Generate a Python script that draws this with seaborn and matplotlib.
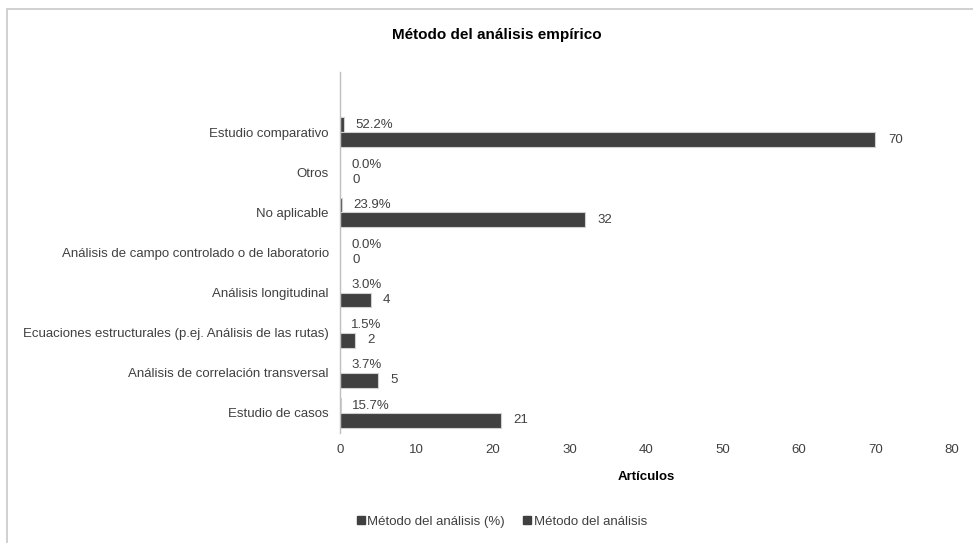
import numpy as np
import pandas as pd
import matplotlib
matplotlib.use("Agg")
import matplotlib.pyplot as plt
import matplotlib.patches as mpatches
import seaborn as sns

# chart data
categorias = ["Estudio comparativo",
              "Otros",
              "No aplicable",
              "Análisis de campo controlado o de laboratorio",
              "Análisis longitudinal",
              "Ecuaciones estructurales (p.ej. Análisis de las rutas)",
              "Análisis de correlación transversal",
              "Estudio de casos"]
porcentaje = [52.2, 0.0, 23.9, 0.0, 3.0, 1.5, 3.7, 15.7]
articulos = [70, 0, 32, 0, 4, 2, 5, 21]
series = ["Método del análisis (%)", "Método del análisis"]

sns.set_theme(style="white")
plt.rcParams['font.family'] = ['Liberation Sans', 'DejaVu Sans']

df = pd.DataFrame({
    "categoria": categorias * 2,
    "serie": [series[0]] * len(categorias) + [series[1]] * len(categorias),
    "valor": [p / 100 for p in porcentaje] + articulos,
})

bar_color = "#404040"
text_color = "#404040"
fs = 9.5

fig = plt.figure(figsize=(9.73, 5.43), dpi=100)
ax = fig.add_axes([0.3494, 0.2026, 0.6290, 0.6648])

sns.barplot(data=df, y="categoria", x="valor", hue="serie", order=categorias,
            hue_order=series, palette=[bar_color, bar_color], width=0.74,
            orient="h", ax=ax, legend=False, edgecolor="#d0d0d0", linewidth=0.8,
            saturation=1)

# data labels
ax.bar_label(ax.containers[0], labels=[f"{p:.1f}%" for p in porcentaje],
             padding=8, fontsize=fs, color=text_color)
ax.bar_label(ax.containers[1], labels=[str(a) for a in articulos],
             padding=9, fontsize=fs, color=text_color)

ax.set_xlim(0, 80)
ax.set_ylim(7.446, -1.485)
ax.set_xticks(np.arange(0, 81, 10))
ax.set_ylabel("")
ax.set_xlabel("Artículos", fontsize=fs, fontweight="bold", color="black", labelpad=11)
ax.tick_params(axis="x", length=0, labelsize=fs, labelcolor=text_color, pad=8)
ax.tick_params(axis="y", length=0, labelsize=fs, labelcolor=text_color, pad=8)
ax.set_yticks(np.arange(-1.5, 8, 1), minor=True)
ax.tick_params(axis="y", which="minor", length=3, color="#a0a0a0", width=0.8)

for s in ["top", "right", "bottom"]:
    ax.spines[s].set_visible(False)
ax.spines["left"].set_color("#bfbfbf")
ax.spines["left"].set_linewidth(1)

fig.text(0.511, 0.9355, "Método del análisis empírico", ha="center", va="center",
         fontsize=11, fontweight="bold", color="black")

handles = [mpatches.Patch(color=bar_color, label=s) for s in series]
fig.legend(handles=handles, loc="center", bbox_to_anchor=(0.516, 0.039), ncol=2,
           frameon=False, fontsize=fs, handlelength=0.6, handleheight=0.6,
           handletextpad=0.2, columnspacing=1.4, labelcolor=text_color)

# outer chart border
border = mpatches.Rectangle((7 / 973, -0.05), 1.2, 1 - 9 / 543 + 0.05,
                            transform=fig.transFigure, fill=False,
                            edgecolor="#c8c8c8", linewidth=1.2)
fig.patches.append(border)

fig.savefig("out.png", dpi=100)
